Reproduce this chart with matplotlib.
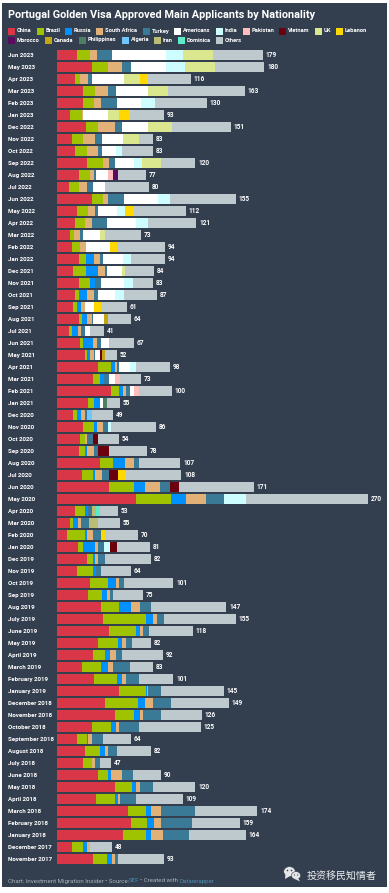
import matplotlib
matplotlib.use('Agg')
import matplotlib.pyplot as plt
from matplotlib.patches import Rectangle, Ellipse, Polygon

plt.rcParams['font.family'] = ['Roboto', 'Noto Sans CJK SC', 'DejaVu Sans']

W, H = 389, 893

months = [
    'Jun 2023', 'May 2023', 'Apr 2023', 'Mar 2023', 'Feb 2023', 'Jan 2023',
    'Dec 2022', 'Nov 2022', 'Oct 2022', 'Sep 2022', 'Aug 2022', 'Jul 2022',
    'Jun 2022', 'May 2022', 'Apr 2022', 'Mar 2022', 'Feb 2022', 'Jan 2022',
    'Dec 2021', 'Nov 2021', 'Oct 2021', 'Sep 2021', 'Aug 2021', 'Jul 2021',
    'Jun 2021', 'May 2021', 'Apr 2021', 'Mar 2021', 'Feb 2021', 'Jan 2021',
    'Dec 2020', 'Nov 2020', 'Oct 2020', 'Sep 2020', 'Aug 2020', 'Jul 2020',
    'Jun 2020', 'May 2020', 'Apr 2020', 'Mar 2020', 'Feb 2020', 'Jan 2020',
    'Dec 2019', 'Nov 2019', 'Oct 2019', 'Sep 2019', 'Aug 2019', 'July 2019',
    'June 2019', 'May 2019', 'April 2019', 'March 2019', 'February 2019', 'January 2019',
    'December 2018', 'November 2018', 'October 2018', 'September 2018', 'August 2018', 'July 2018',
    'June 2018', 'May 2018', 'April 2018', 'March 2018', 'February 2018', 'January 2018',
    'December 2017', 'November 2017',
]

# Values per nationality, same order as months
china = [17, 30, 16, 23, 23, 11, 25, 13, 16, 26,
         19, 10, 30, 17, 16, 11, 13, 19, 14, 19,
         16, 14, 19, 10, 20, 24, 36, 31, 47, 27,
         14, 23, 20, 19, 37, 22, 45, 69, 16, 11,
         9, 18, 26, 17, 29, 27, 38, 40, 45, 36,
         31, 22, 32, 54, 42, 50, 30, 17, 24, 23,
         36, 50, 34, 62, 64, 57, 13, 31]
brazil = [12, 14, 4, 10, 9, 11, 11, 10, 10, 14,
          10, 9, 10, 10, 8, 4, 7, 6, 11, 10,
          3, 3, 3, 3, 3, 2, 11, 6, 7, 5,
          3, 9, 4, 5, 12, 9, 22, 30, 8, 3,
          15, 5, 5, 14, 15, 12, 16, 37, 24, 17,
          11, 16, 20, 23, 28, 17, 17, 9, 13, 7,
          8, 15, 16, 15, 14, 20, 10, 12]
russia = [0, 0, 0, 0, 0, 0, 0, 0, 0, 0,
          0, 0, 0, 0, 0, 0, 0, 7, 11, 4,
          7, 4, 4, 5, 8, 3, 3, 4, 3, 5,
          4, 3, 0, 2, 10, 2, 9, 13, 3, 4,
          2, 10, 2, 3, 7, 4, 10, 6, 3, 3,
          4, 6, 4, 1, 6, 5, 4, 1, 5, 0,
          3, 4, 3, 5, 6, 5, 3, 5]
south_africa = [6, 12, 7, 11, 6, 1, 14, 10, 10, 5,
                3, 7, 4, 6, 6, 5, 5, 5, 6, 0,
                6, 3, 4, 3, 4, 3, 2, 0, 3, 0,
                3, 5, 2, 6, 8, 6, 13, 17, 0, 3,
                5, 3, 3, 0, 3, 3, 8, 4, 3, 4,
                5, 5, 4, 1, 7, 3, 3, 3, 2, 3,
                9, 3, 2, 8, 6, 10, 3, 2]
turkey = [13, 8, 3, 7, 14, 0, 6, 6, 3, 5,
          2, 5, 14, 3, 13, 3, 0, 3, 1, 5,
          4, 0, 1, 3, 3, 1, 2, 4, 3, 0,
          2, 4, 5, 4, 4, 6, 9, 16, 3, 7,
          7, 5, 6, 4, 4, 3, 10, 6, 5, 5,
          5, 14, 11, 11, 16, 15, 17, 10, 8, 4,
          10, 11, 14, 30, 27, 23, 0, 3]
americans = [47, 31, 28, 28, 21, 21, 23, 18, 12, 17,
             10, 11, 30, 16, 26, 14, 21, 17, 13, 20,
             14, 8, 10, 5, 7, 4, 9, 5, 4, 3,
             0, 0, 0, 0, 0, 0, 0, 0, 0, 0,
             0, 0, 0, 0, 0, 0, 0, 0, 0, 0,
             0, 0, 0, 0, 0, 0, 0, 0, 0, 0,
             0, 0, 0, 0, 0, 0, 0, 0]
others = [44, 43, 37, 67, 45, 30, 51, 12, 27, 30,
          24, 38, 57, 45, 42, 31, 42, 30, 25, 17,
          29, 23, 20, 12, 22, 10, 29, 18, 29, 12,
          19, 39, 18, 33, 36, 48, 65, 106, 16, 19,
          28, 29, 40, 26, 43, 26, 65, 62, 38, 17,
          36, 20, 30, 55, 50, 36, 54, 24, 30, 10,
          24, 37, 40, 54, 42, 49, 19, 40]

# The rarer nationalities only show up in a few months
india = {'Jun 2023': 14, 'May 2023': 16, 'Feb 2023': 12, 'Oct 2022': 5, 'Sep 2022': 7,
         'Jun 2022': 10, 'May 2022': 7, 'Apr 2022': 10, 'Jan 2022': 7, 'Nov 2021': 8,
         'Oct 2021': 8, 'Apr 2021': 6, 'Nov 2020': 3, 'May 2020': 19, 'Jan 2020': 5}
pakistan = {'Aug 2022': 5, 'Mar 2021': 5, 'Feb 2021': 4}
vietnam = {'May 2021': 2, 'Oct 2020': 5, 'Sep 2020': 9, 'Jul 2020': 8, 'Jun 2020': 8, 'Jan 2020': 6}
uk = {'Jun 2023': 26, 'May 2023': 26, 'Apr 2023': 14, 'Mar 2023': 17, 'Jan 2023': 10,
      'Dec 2022': 21, 'Nov 2022': 14, 'Sep 2022': 16, 'Mar 2022': 5, 'Dec 2021': 3}
lebanon = {'Apr 2023': 7, 'Jan 2023': 9, 'May 2022': 8, 'Feb 2022': 6, 'Sep 2021': 6,
           'Jul 2020': 7, 'Feb 2020': 4}
morocco = {'Aug 2022': 4}
canada = {'Aug 2021': 3, 'May 2021': 3}
philippines = {'Jan 2021': 3}
algeria = {'Dec 2020': 4}
iran = {'Apr 2020': 4, 'Mar 2020': 8}
dominica = {'Apr 2020': 3}

names = ['China', 'Brazil', 'Russia', 'South Africa', 'Turkey', 'Americans', 'India', 'Pakistan',
         'Vietnam', 'UK', 'Lebanon', 'Morocco', 'Canada', 'Philippines', 'Algeria', 'Iran',
         'Dominica', 'Others']
colors = ['#d93647', '#9fc300', '#0091ff', '#e1b177', '#3a7a96', '#ffffff', '#cdfdff', '#ffbcbc',
          '#6b000e', '#dbe78e', '#ffd800', '#5c0a60', '#c2a616', '#4f7f63', '#6ec5ff', '#bcbd74',
          '#5decc8', '#bdc9cd']
series = [china, brazil, russia, south_africa, turkey, americans, india, pakistan, vietnam, uk,
          lebanon, morocco, canada, philippines, algeria, iran, dominica, others]
series = [[s.get(m, 0) for m in months] if isinstance(s, dict) else s for s in series]

BG = '#333e4e'


def px(x, y):
    # pixel position in the picture -> figure fraction
    return x / W, 1 - y / H


fig = plt.figure(figsize=(W / 100, H / 100), dpi=100, facecolor='white')
fig.add_artist(Rectangle(px(2, 887), 385 / W, 884 / H, transform=fig.transFigure,
                         facecolor=BG, edgecolor='none', zorder=-5))

# Axes runs from x=57px, 311px wide for 270 people; rows are 12px tall
n = len(months)
left, bottom = px(57, 49 + 12 * n)
ax = fig.add_axes([left, bottom, 311 / W, 12 * n / H])
ax.patch.set_visible(False)

y = list(range(n))
totals = [0] * n
for vals, name, col in zip(series, names, colors):
    bars = ax.barh(y, vals, left=totals, height=10 / 12, color=col, linewidth=0, label=name)
    totals = [t + v for t, v in zip(totals, vals)]

# Invisible bar on top just to carry the value labels
end = ax.barh(y, [0] * n, left=totals, height=10 / 12, linewidth=0)
ax.bar_label(end, labels=[str(t) for t in totals], padding=2.0, color='white',
             fontsize=4.7, fontweight='bold')

ax.set_xlim(0, 270)
ax.set_ylim(n - 0.5, -0.5)
ax.set_xticks([])
ax.set_yticks(y)
ax.set_yticklabels(months, fontsize=4.4, fontweight='bold', color='white', ha='left')
ax.tick_params(axis='y', length=0, pad=(57 - 8) * 0.72)
for side in ax.spines.values():
    side.set_visible(False)

# Title
tx, ty = px(8, 15.5)
fig.text(tx, ty, 'Portugal Golden Visa Approved Main Applicants by Nationality', color='white',
         fontsize=7.85, fontweight='bold', va='center', ha='left')

# Legend, two rows
legend_x = [8, 37, 65, 96, 143, 174, 216, 243, 279, 315, 336,
            8, 45, 79, 122, 154, 178, 216]
for i, (name, col, lx) in enumerate(zip(names, colors, legend_x)):
    ly = 31.5 if i < 11 else 40.5
    fig.add_artist(Rectangle(px(lx, ly + 3.7), 7.3 / W, 7.3 / H, transform=fig.transFigure,
                             facecolor=col, edgecolor='none'))
    fx, fy = px(lx + 8.6, ly - 0.5)
    fig.text(fx, fy, name, color='white', fontsize=4.15, fontweight='bold', va='center', ha='left')

# Footer
foot_y = 881
foot = [(8, 'Chart: Investment Migration Insider • Source:', '#a9b3bd'),
        (128.5, 'SEF', '#4f8fb5'),
        (139.5, '• Created with', '#a9b3bd'),
        (179, 'Datawrapper', '#4f8fb5')]
for fx, txt, col in foot:
    a, b = px(fx, foot_y)
    fig.text(a, b, txt, color=col, fontsize=4.4, va='center', ha='left')

# Watermark: wechat bubbles + account name
wm = '#e4e6e8'
for cx, cy, rx, ry in [(289.5, 871.5, 5.8, 4.9), (296, 875.5, 4.6, 3.9)]:
    a, b = px(cx, cy)
    fig.add_artist(Ellipse((a, b), 2 * rx / W, 2 * ry / H, transform=fig.transFigure,
                           facecolor=wm, edgecolor=BG, linewidth=0.4))
fig.add_artist(Polygon([px(285.5, 874), px(285, 879), px(290, 876)], transform=fig.transFigure,
                       facecolor=wm, edgecolor='none'))
fig.add_artist(Polygon([px(298, 878), px(300, 881.5), px(295, 879)], transform=fig.transFigure,
                       facecolor=wm, edgecolor='none'))
for cx, cy, r in [(287.5, 870.5, 0.8), (291.5, 870.5, 0.8), (294.5, 875, 0.6), (297.7, 875, 0.6)]:
    a, b = px(cx, cy)
    fig.add_artist(Ellipse((a, b), 2 * r / W, 2 * r / H, transform=fig.transFigure,
                           facecolor=BG, edgecolor='none'))
a, b = px(307, 875.5)
fig.text(a, b, '投资移民知情者', color='#eceef0', fontsize=7.2, va='center', ha='left',
         family=['Noto Sans CJK SC', 'DejaVu Sans'])

fig.savefig('out.png', dpi=100, facecolor='white')
